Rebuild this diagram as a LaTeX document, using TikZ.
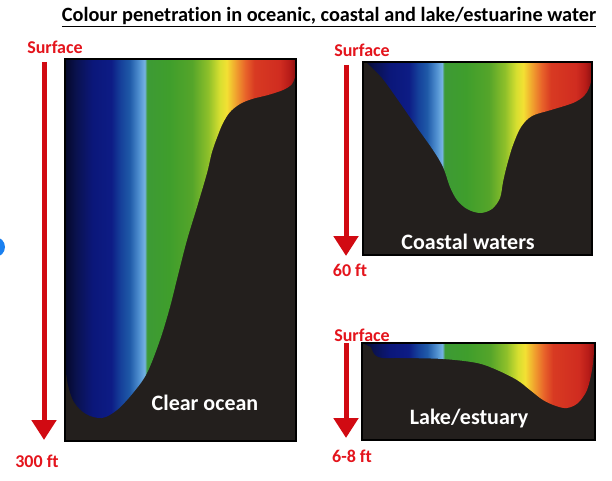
\documentclass[tikz,border=0pt]{standalone}
\usepackage{fontspec}
\setmainfont{Carlito}[Ligatures=NoCommon]
\usetikzlibrary{arrows.meta}
\definecolor{arrowred}{HTML}{D10A12}
\definecolor{labelred}{HTML}{E4141C}
\definecolor{boxfill}{HTML}{231F1D}
\definecolor{dotblue}{HTML}{1A80F0}
\definecolor{sa}{HTML}{05082A}
\definecolor{sb}{HTML}{0A1250}
\definecolor{sc}{HTML}{0B177A}
\definecolor{sd}{HTML}{0D1C85}
\definecolor{se}{HTML}{15409A}
\definecolor{sf}{HTML}{1F5AA8}
\definecolor{sg}{HTML}{4F8FD0}
\definecolor{sh}{HTML}{75B2E2}
\definecolor{si}{HTML}{3D9A35}
\definecolor{sj}{HTML}{3F9E2C}
\definecolor{sk}{HTML}{55A52A}
\definecolor{sl}{HTML}{8FC02A}
\definecolor{sm}{HTML}{D8DF30}
\definecolor{sn}{HTML}{F3E033}
\definecolor{so}{HTML}{F0A02E}
\definecolor{sp}{HTML}{E8642A}
\definecolor{sq}{HTML}{D83A22}
\definecolor{sr}{HTML}{D02C20}
\definecolor{ss}{HTML}{B81C18}
\definecolor{st}{HTML}{8A1010}
\pgfdeclarehorizontalshading{spectrum}{100bp}{color(0bp)=(sa); color(25bp)=(sa); color(27.5bp)=(sb); color(31bp)=(sc); color(35bp)=(sd); color(37bp)=(se); color(39bp)=(sf); color(41bp)=(sg); color(42.25bp)=(sh); color(42.75bp)=(si); color(47.5bp)=(sj); color(52.5bp)=(sk); color(56bp)=(sl); color(58.5bp)=(sm); color(60bp)=(sn); color(62bp)=(so); color(64bp)=(sp); color(66bp)=(sq); color(71.5bp)=(sr); color(73.5bp)=(ss); color(75bp)=(st); color(100bp)=(st)}
\begin{document}
\begin{tikzpicture}[x=1pt,y=-1pt,
  titletext/.style={font=\bfseries\fontsize{20.3}{24}\selectfont, inner sep=0pt},
  redlabel/.style={text=labelred, font=\bfseries\fontsize{18}{20}\selectfont, inner sep=0pt},
  paneltext/.style={text=white, font=\bfseries\fontsize{22}{24}\selectfont, inner sep=0pt},
  panel/.style={fill=boxfill, inner sep=0pt, outer sep=0pt},
  border/.style={draw=black, line width=1.5pt},
  deptharrow/.style={draw=arrowred, line width=5pt, -{Triangle[width=24pt,length=20pt]}}
]
\clip (0,0) rectangle (612,481);
\fill[white] (0,0) rectangle (612,481);
\fill[dotblue] (-5,247) circle[radius=10];

\node[titletext] (title) at (329,17) {\underline{Colour penetration in oceanic, coastal and lake/estuarine water}};

% ---------- Clear ocean ----------
\node[panel, minimum width=231pt, minimum height=382pt] (ocean) at (180.5,250) {};
\begin{scope}
\clip (65,59) -- (296,59) -- plot[smooth, tension=0.55] coordinates {(296,74) (292,84) (283,90) (268,95) (252,99) (240,104) (230,112) (223,123) (218,135) (212,152) (207,173) (197,207) (187,240) (178,275) (170,307) (160,340) (147,373) (133,393) (117,410) (102,418) (86,414) (74,402) (68,385) (65,365)} -- cycle;
\shade[shading=spectrum] (ocean.north west) rectangle (ocean.south east);
\end{scope}
\draw[border] (ocean.north west) rectangle (ocean.south east);
\node[paneltext] (oceanlbl) at (205,403) {Clear ocean};
\node[redlabel] (oceansurf) at (55,47) {Surface};
\node[redlabel] (oceandepth) at (37,461) {300 ft};
\coordinate (oT) at (44,62);
\coordinate (oB) at (44,440);
\draw[deptharrow] (oT) -- (oB);

% ---------- Coastal waters ----------
\node[panel, minimum width=229pt, minimum height=193pt] (coast) at (477.5,158.5) {};
\begin{scope}
\clip (363,62) -- (592,62) -- plot[smooth, tension=0.55] coordinates {(592,78) (589,88) (584,96) (573,103) (551,110) (532,116) (521,127) (513,145) (507,165) (503,182) (500,198) (492,209) (480,213) (467,209) (457,200) (450,187) (443,167) (433,150) (416,126) (398,100) (382,78) (367,63)} -- cycle;
\shade[shading=spectrum] (coast.north west) rectangle (coast.south east);
\end{scope}
\draw[border] (coast.north west) rectangle (coast.south east);
\node[paneltext] (coastlbl) at (468,242) {Coastal waters};
\node[redlabel] (coastsurf) at (362,50) {Surface};
\node[redlabel] (coastdepth) at (350,270) {60 ft};
\coordinate (cT) at (346,65);
\coordinate (cB) at (346,256);
\draw[deptharrow] (cT) -- (cB);

% ---------- Lake / estuary ----------
\node[panel, minimum width=233pt, minimum height=97pt] (lake) at (478.5,391.5) {};
\begin{scope}
\clip (362,343) -- (595,343) -- plot[smooth, tension=0.55] coordinates {(594,352) (592,370) (587,390) (578,403) (567,408) (556,406) (543,400) (530,390) (517,380) (497,370) (477,363) (443,359) (400,358) (383,358) (375,355) (371,347)} -- cycle;
\shade[shading=spectrum] (lake.north west) rectangle (lake.south east);
\end{scope}
\draw[border] (lake.north west) rectangle (lake.south east);
\node[paneltext] (lakelbl) at (469,419) {Lake/estuary};
\node[redlabel] (lakesurf) at (362,335) {Surface};
\node[redlabel] (lakedepth) at (352,456) {6-8 ft};
\coordinate (lT) at (346,343);
\coordinate (lB) at (346,438);
\draw[deptharrow] (lT) -- (lB);
\end{tikzpicture}
\end{document}
